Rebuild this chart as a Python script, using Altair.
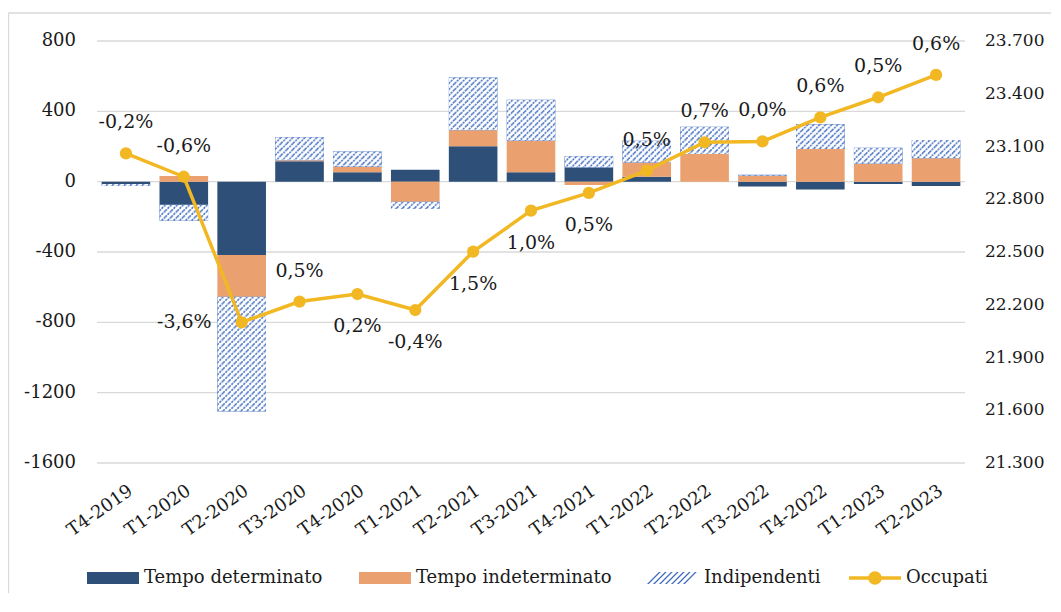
import urllib.parse
import altair as alt
import pandas as pd

# ---------------- data ----------------
cats = ["T4-2019", "T1-2020", "T2-2020", "T3-2020", "T4-2020", "T1-2021", "T2-2021",
        "T3-2021", "T4-2021", "T1-2022", "T2-2022", "T3-2022", "T4-2022", "T1-2023", "T2-2023"]
tempo_det = [-13, -131, -417, 116, 53, 68, 201, 53, 81, 28, 0, -28, -44, -13, -25]
tempo_indet = [0, 32, -237, 6, 32, -114, 91, 180, -19, 81, 157, 34, 186, 102, 133]
indipendenti = [-11, -91, -653, 131, 87, -42, 301, 233, 64, 123, 155, 5, 140, 91, 104]
occupati = [23061, 22928, 22100, 22218, 22261, 22170, 22502, 22735, 22836, 22963,
            23124, 23129, 23266, 23380, 23507]
var_labels = ["-0,2%", "-0,6%", "-3,6%", "0,5%", "0,2%", "-0,4%", "1,5%", "1,0%", "0,5%",
              "0,5%", "0,7%", "0,0%", "0,6%", "0,5%", "0,6%"]
left_ticks = [-1600, -1200, -800, -400, 0, 400, 800]
left_tick_labels = ["-1600", "-1200", "-800", "-400", "0", "400", "800"]
right_ticks = [21300, 21600, 21900, 22200, 22500, 22800, 23100, 23400, 23700]
right_tick_labels = ["21.300", "21.600", "21.900", "22.200", "22.500", "22.800",
                     "23.100", "23.400", "23.700"]
series = ["Tempo determinato", "Tempo indeterminato", "Indipendenti"]
line_name = "Occupati"

# label placement (style)
lab_above = ["T4-2019", "T1-2020", "T3-2020", "T1-2022", "T2-2022", "T3-2022", "T4-2022",
             "T1-2023", "T2-2023"]
lab_below = ["T4-2020", "T1-2021", "T2-2021", "T3-2021", "T4-2021"]
lab_left = ["T2-2020"]

# ---------------- styles ----------------
DARK = "#2D4F78"
ORANGE = "#EBA06F"
HATCH = "#3F6CC0"
GOLD = "#F2B824"
GRID = "#D9D9D9"
TXT = "#1a1a1a"
FONT = "DejaVu Serif"
W, H = 868, 422

rows = []
for i, c in enumerate(cats):
    for k, (s, vals) in enumerate(zip(series, [tempo_det, tempo_indet, indipendenti])):
        rows.append({"cat": c, "serie": s, "ord": k, "value": vals[i]})
bars_df = pd.DataFrame(rows)
line_df = pd.DataFrame({"cat": cats, "occ": occupati, "lab": var_labels,
                        "name": [line_name] * len(cats)})

# hatch image (pattern drawn at fixed pixel size)
hatch_svg = (
    "<svg xmlns='http://www.w3.org/2000/svg' width='100%' height='100%'>"
    "<defs><pattern id='h' width='6' height='6' patternUnits='userSpaceOnUse'>"
    "<rect width='6' height='6' fill='white'/>"
    f"<path d='M-1,1 L1,-1 M0,6 L6,0 M5,7 L7,5' stroke='{HATCH}' stroke-width='1.5' "
    "stroke-dasharray='2,1'/>"
    "</pattern></defs><rect width='100%' height='100%' fill='url(#h)'/></svg>"
)
HATCH_URL = "data:image/svg+xml;charset=utf-8," + urllib.parse.quote(hatch_svg)

# legend symbol paths (unit coords; symbolSize 2704 -> 26 px per unit)
hh, sp, w = 0.23, 6 / 26, 0.07
hatch_parts = []
x0 = -1.0
while x0 + 2 * hh + w <= 1.0001:
    hatch_parts.append(
        f"M{x0:.3f},{hh}L{x0 + w:.3f},{hh}L{x0 + w + 2 * hh:.3f},{-hh}L{x0 + 2 * hh:.3f},{-hh}Z")
    x0 += sp
hatch_path = " ".join(hatch_parts)
rect_path = "M-1,-0.23L1,-0.23L1,0.23L-1,0.23Z"
line_path = ("M-1,-0.065L1,-0.065L1,0.065L-1,0.065Z "
             "M0.26,0A0.26,0.26 0 1,1 -0.26,0A0.26,0.26 0 1,1 0.26,0Z")

LEG = dict(title=None, orient="none", direction="horizontal", symbolSize=2704,
           labelOffset=5, labelFont=FONT, labelFontSize=18, labelColor=TXT,
           labelLimit=400, padding=0, symbolStrokeWidth=0, symbolOpacity=1)
LEG_Y = 511

xscale = alt.Scale(paddingInner=0.16, paddingOuter=0.08)
x_plain = alt.X("cat:N", sort=cats, scale=xscale, axis=None)

ydom = [-1600, 800]
lscale = alt.Scale(domain=ydom, nice=False, zero=False)
rdom = [21300, 23700]
rscale = alt.Scale(domain=rdom, nice=False, zero=False)

grid = alt.Chart(pd.DataFrame({"g": left_ticks})).mark_rule(
    color=GRID, strokeWidth=1.3).encode(y=alt.Y("g:Q", scale=lscale, axis=None))

# tick labels (left axis)
left_lab = alt.Chart(pd.DataFrame({"t": left_ticks, "s": left_tick_labels})).mark_text(
    font=FONT, fontSize=18, color=TXT, align="right", baseline="middle").encode(
    y=alt.Y("t:Q", scale=lscale, axis=None), x=alt.value(-21), text="s:N")

# category labels (x axis)
x_lab = alt.Chart(pd.DataFrame({"cat": cats})).mark_text(
    font=FONT, fontSize=18, color=TXT, align="right", baseline="top", angle=325).encode(
    x=x_plain, y=alt.value(H + 19), text="cat:N")

one = pd.DataFrame({"a": [0]})
frame_top = alt.Chart(one).mark_rule(color=GRID, strokeWidth=1.3).encode(
    x=alt.value(-88.5), x2=alt.value(1100), y=alt.value(-28))
frame_left = alt.Chart(one).mark_rule(color=GRID, strokeWidth=1.3).encode(
    x=alt.value(-88.5), y=alt.value(-28), y2=alt.value(700))

# employee contracts (fill legend)
bars = alt.Chart(bars_df).transform_filter(alt.datum.serie != "Indipendenti").mark_bar().encode(
    x=x_plain,
    y=alt.Y("value:Q", stack="zero", scale=lscale, axis=None),
    fill=alt.Fill("serie:N", scale=alt.Scale(domain=series[:2], range=[DARK, ORANGE]),
                  legend=alt.Legend(legendX=-10, legendY=LEG_Y, columns=2,
                                    columnPadding=36, symbolType=rect_path, **LEG)),
    order=alt.Order("ord:Q"),
)

# self-employed: base bars (colour legend) + hatch image on top
indip_bars = alt.Chart(bars_df).mark_bar().encode(
    x=x_plain,
    y=alt.Y("value:Q", stack="zero", scale=lscale, axis=None),
    color=alt.Color("serie:N", scale=alt.Scale(domain=series[2:], range=[HATCH]),
                    legend=alt.Legend(legendX=550, legendY=LEG_Y, symbolType=hatch_path,
                                      **LEG)),
    opacity=alt.condition(alt.datum.serie == "Indipendenti", alt.value(1), alt.value(0)),
    order=alt.Order("ord:Q"),
)

hatch = alt.Chart(bars_df).transform_stack(
    stack="value", groupby=["cat"], as_=["v0", "v1"],
    sort=[alt.SortField("ord", order="ascending")], offset="zero",
).transform_filter(alt.datum.serie == "Indipendenti").mark_image(aspect=False).encode(
    x=x_plain,
    y=alt.Y("v0:Q", scale=lscale, axis=None),
    y2="v1:Q",
    url=alt.value(HATCH_URL),
)

left_group = alt.layer(frame_top, frame_left, grid, left_lab, x_lab, bars, indip_bars, hatch)

y_right = alt.Y("occ:Q", scale=rscale, axis=None)

right_lab = alt.Chart(pd.DataFrame({"t": right_ticks, "s": right_tick_labels})).mark_text(
    font=FONT, fontSize=17, color=TXT, align="left", baseline="middle").encode(
    y=alt.Y("t:Q", scale=rscale, axis=None), x=alt.value(W + 20), text="s:N")

base = alt.Chart(line_df)
line = base.mark_line(strokeWidth=3.5).encode(
    x=x_plain, y=y_right,
    stroke=alt.Stroke("name:N", scale=alt.Scale(domain=[line_name], range=[GOLD]),
                      legend=alt.Legend(legendX=752, legendY=LEG_Y, symbolType=line_path,
                                        symbolFillColor=GOLD, **LEG)))
pts = base.mark_point(filled=True, color=GOLD, size=150, opacity=1).encode(
    x=x_plain, y=y_right)


def txt(cats_sel, **kw):
    return base.transform_filter(
        alt.FieldOneOfPredicate(field="cat", oneOf=cats_sel)
    ).mark_text(font=FONT, fontSize=19, color=TXT, **kw).encode(
        x=x_plain, y=y_right, text="lab:N")


t_above = txt(lab_above, dy=-31)
t_below = txt(lab_below, dy=32)
t_left = txt(lab_left, align="right", dx=-30)

right_group = alt.layer(right_lab, line, pts, t_above, t_below, t_left)

chart = alt.layer(left_group, right_group).resolve_scale(y="independent").properties(
    width=W, height=H,
    padding={"left": 89, "top": 33, "right": 86, "bottom": 130},
    autosize=alt.AutoSizeParams(type="none"),
    background="white",
).configure_view(stroke=None)

chart.save("out.html", embed_options={"renderer": "svg", "actions": False})
